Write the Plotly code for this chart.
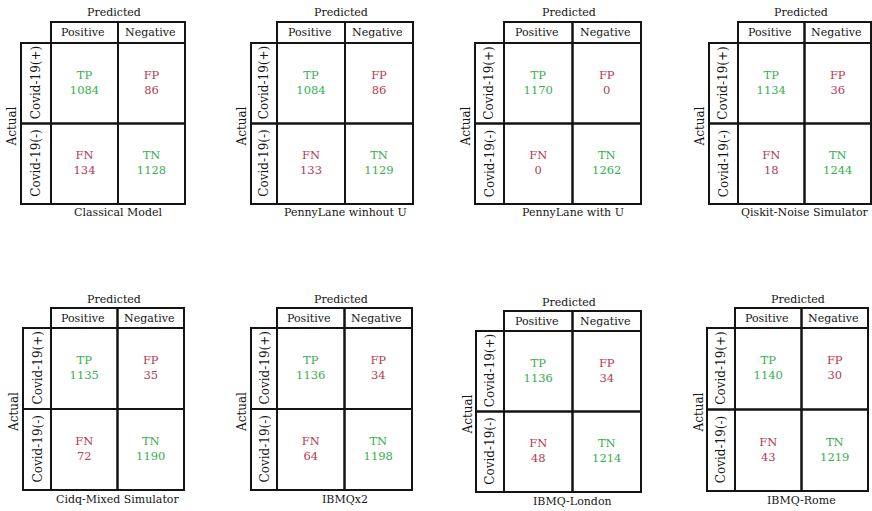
import plotly.graph_objects as go

# ---------------- data ----------------
models = ["Classical Model", "PennyLane winhout U", "PennyLane with U", "Qiskit-Noise Simulator",
          "Cidq-Mixed Simulator", "IBMQx2", "IBMQ-London", "IBMQ-Rome"]
tp = [1084, 1084, 1170, 1134, 1135, 1136, 1136, 1140]
fp = [86, 86, 0, 36, 35, 34, 34, 30]
fn = [134, 133, 0, 18, 72, 64, 48, 43]
tn = [1128, 1129, 1262, 1244, 1190, 1198, 1214, 1219]
pred_labels = ["Positive", "Negative"]
actual_labels = ["Covid-19(+)", "Covid-19(-)"]
cell_names = [["TP", "FP"], ["FN", "TN"]]

# ---------------- layout geometry (pixels) ----------------
W, H = 872, 511
# x0 (label col left), xh (cells left), x1 (right), y0 (header top), yb (body top), y1 (bottom)
geom = [
    (21, 51, 185, 22, 43, 204),
    (251, 277, 413, 22, 43, 204),
    (475, 504, 641, 22, 43, 204),
    (709, 738, 871, 22, 43, 204),
    (23, 51, 184, 308, 328, 490),
    (251, 277, 412, 308, 328, 490),
    (476, 504, 641, 311, 331, 492),
    (707, 735, 868, 308, 328, 491),
]
GREEN = "#35b04e"
RED = "#b83a52"
INK = "#151515"
FONT = "DejaVu Serif"
FS_CELL = 11.5
FS_HEAD = 11
FS_ROW = 12
FS_TITLE = 11
pad = 3

fig = go.Figure()
shapes = []
annotations = []
layout_axes = {}

for i, (x0, xh, x1, y0, yb, y1) in enumerate(geom):
    n = i + 1
    xa = "x" if n == 1 else f"x{n}"
    ya = "y" if n == 1 else f"y{n}"
    cw = (x1 - xh) / 2.0
    rh = (y1 - yb) / 2.0
    dl = max(x0 - pad, 0); dr = min(x1 + pad, W)
    dt = max(y0 - pad, 0); db = min(y1 + pad, H)
    xr = [(dl - xh) / cw, (dr - xh) / cw]
    yr = [(db - yb) / rh, (dt - yb) / rh]
    ax_common = dict(visible=False, fixedrange=True, showgrid=False, zeroline=False)
    layout_axes["xaxis" if n == 1 else f"xaxis{n}"] = dict(
        domain=[dl / W, dr / W], range=xr, anchor=ya, **ax_common)
    layout_axes["yaxis" if n == 1 else f"yaxis{n}"] = dict(
        domain=[1 - db / H, 1 - dt / H], range=yr, anchor=xa, **ax_common)

    lw = (xh - x0) / cw
    hh = (yb - y0) / rh
    line = dict(color="#141414", width=2)
    for c, lab in enumerate(pred_labels):
        shapes.append(dict(type="rect", xref=xa, yref=ya, x0=c, x1=c + 1, y0=-hh, y1=0, line=line))
        annotations.append(dict(xref=xa, yref=ya, x=c + 0.5, y=-hh / 2, text=lab, showarrow=False,
                                xshift=-2, font=dict(family=FONT, size=FS_HEAD, color=INK)))
    for r, lab in enumerate(actual_labels):
        shapes.append(dict(type="rect", xref=xa, yref=ya, x0=-lw, x1=0, y0=r, y1=r + 1, line=line))
        annotations.append(dict(xref=xa, yref=ya, x=-lw / 2, y=r + 0.5, text=lab, showarrow=False,
                                textangle=-90, font=dict(family=FONT, size=FS_ROW, color=INK)))
        for c in range(2):
            shapes.append(dict(type="rect", xref=xa, yref=ya, x0=c, x1=c + 1, y0=r, y1=r + 1, line=line))

    vals = [[tp[i], fp[i]], [fn[i], tn[i]]]
    xs, ys, texts, cols = [], [], [], []
    for r in range(2):
        for c in range(2):
            xs.append(c + 0.5)
            ys.append(r + 0.5)
            texts.append(f"{cell_names[r][c]}<br>{vals[r][c]}")
            cols.append(GREEN if r == c else RED)
    fig.add_trace(go.Scatter(x=xs, y=ys, mode="text", text=texts, textposition="middle center",
                             textfont=dict(family=FONT, size=FS_CELL, color=cols), xaxis=xa, yaxis=ya,
                             hoverinfo="skip", showlegend=False, cliponaxis=False))

    hc = (xh + x1) / 2.0
    annotations.append(dict(xref="paper", yref="paper", x=(hc - 4) / W, y=1 - (y0 - 9) / H,
                            text="Predicted", showarrow=False, xanchor="center", yanchor="middle",
                            font=dict(family=FONT, size=FS_TITLE, color=INK)))
    annotations.append(dict(xref="paper", yref="paper", x=(x0 - 9) / W, y=1 - ((yb + y1) / 2 + 3) / H,
                            text="Actual", showarrow=False, xanchor="center", yanchor="middle",
                            textangle=-90, font=dict(family=FONT, size=FS_ROW, color=INK)))
    annotations.append(dict(xref="paper", yref="paper", x=hc / W, y=1 - (y1 + 9) / H,
                            text=models[i], showarrow=False, xanchor="center", yanchor="middle",
                            font=dict(family=FONT, size=FS_TITLE, color=INK)))

fig.update_layout(width=W, height=H, margin=dict(l=0, r=0, t=0, b=0),
                  paper_bgcolor="white", plot_bgcolor="white",
                  shapes=shapes, annotations=annotations, **layout_axes)
fig.write_html("out.html")
